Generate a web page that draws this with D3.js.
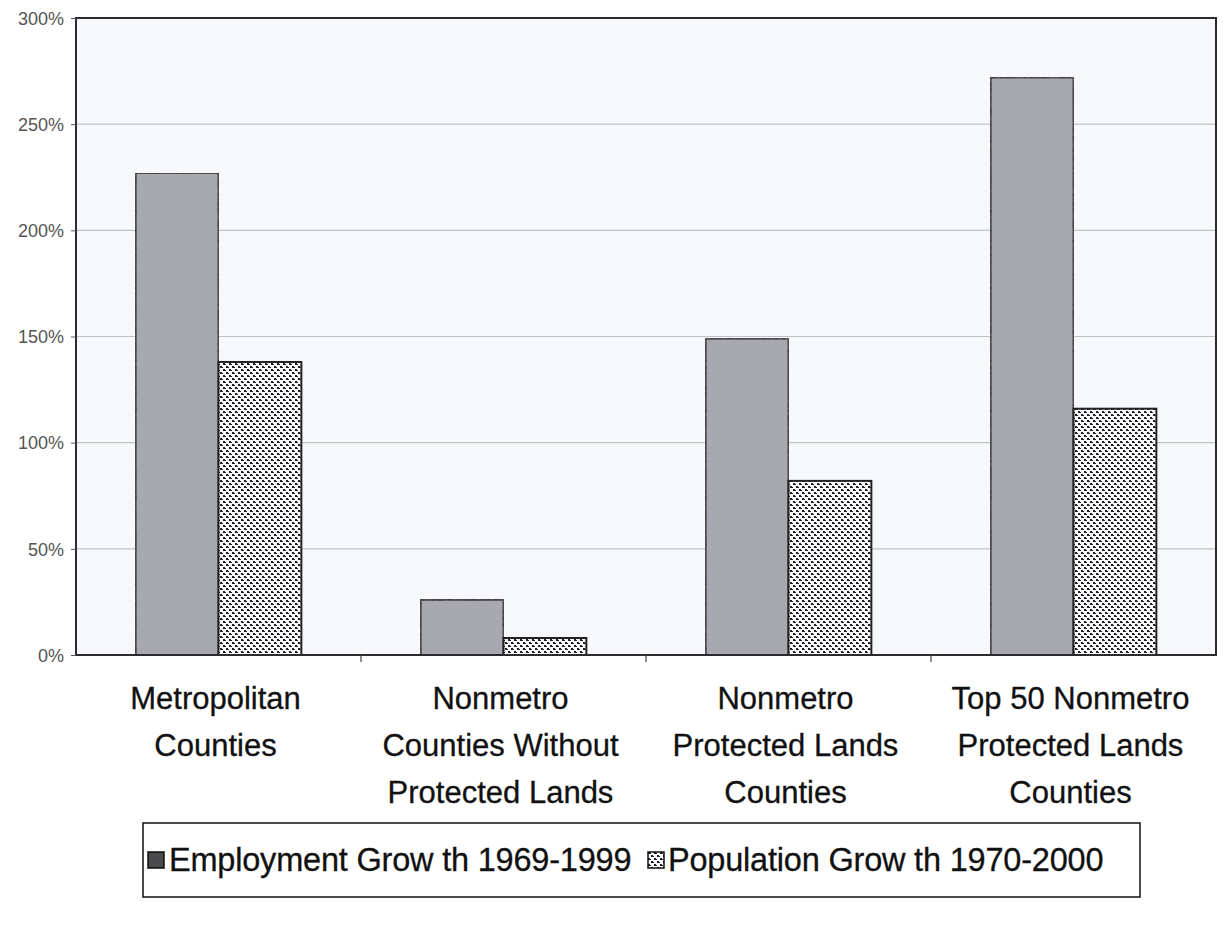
<!DOCTYPE html>
<html>
<head>
<meta charset="utf-8">
<script src="https://cdn.jsdelivr.net/npm/d3@7"></script>
<style>
  body { margin: 0; background: #fff; }
  svg { display: block; }
</style>
</head>
<body>
<svg id="chart" width="1224" height="925"></svg>
<script>
// Growth rates by county type, in percent
const categories = [
  ["Metropolitan", "Counties"],
  ["Nonmetro", "Counties Without", "Protected Lands"],
  ["Nonmetro", "Protected Lands", "Counties"],
  ["Top 50 Nonmetro", "Protected Lands", "Counties"]
];
const seriesNames = ["Employment Grow th 1969-1999", "Population Grow th 1970-2000"];
const employment = [227, 26, 149, 272];
const population = [138, 8, 82, 116];
const yTicks = [0, 50, 100, 150, 200, 250, 300];

const FONT = "Liberation Sans, Arial, sans-serif";
const svg = d3.select("#chart");
const plot = { left: 76, right: 1216, top: 18, bottom: 655 };

const defs = svg.append("defs");

// Grainy grey fill for employment bars
const grain = defs.append("filter").attr("id", "grain")
  .attr("x", 0).attr("y", 0).attr("width", 1).attr("height", 1);
grain.append("feTurbulence").attr("type", "fractalNoise")
  .attr("baseFrequency", 0.3).attr("numOctaves", 2).attr("seed", 4).attr("result", "noise");
grain.append("feColorMatrix").attr("in", "noise").attr("type", "matrix")
  .attr("values", "0 0 0 0 0.4  0 0 0 0 0.4  0 0 0 0 0.43  0 0 0 0.3 0").attr("result", "tint");
grain.append("feComposite").attr("in", "tint").attr("in2", "SourceGraphic").attr("operator", "in").attr("result", "spots");
grain.append("feMerge").selectAll("feMergeNode").data(["SourceGraphic", "spots"]).join("feMergeNode").attr("in", d => d);

// Dotted fill for population bars
const dots = defs.append("pattern").attr("id", "dots")
  .attr("patternUnits", "userSpaceOnUse").attr("width", 6).attr("height", 6);
dots.append("rect").attr("width", 6).attr("height", 6).attr("fill", "#fafbfd");
[[0, 0, 2, 2], [2, 1, 1, 1], [3, 3, 2, 2], [5, 4, 1, 1]].forEach(([rx, ry, w, h]) =>
  dots.append("rect").attr("x", rx).attr("y", ry).attr("width", w).attr("height", h).attr("fill", "#1f1f24"));

const x = d3.scaleBand().domain(d3.range(categories.length))
  .range([plot.left, plot.right]).paddingInner(0).paddingOuter(0);
const inner = d3.scaleBand().domain([0, 1]).range([0, x.bandwidth()]).paddingInner(0).paddingOuter(0.72);
const y = d3.scaleLinear().domain([0, 300]).range([plot.bottom, plot.top]);

// Plot area
svg.append("rect").attr("x", plot.left).attr("y", plot.top)
  .attr("width", plot.right - plot.left).attr("height", plot.bottom - plot.top)
  .attr("fill", "#f6f8fb");

// Gridlines
svg.append("g").selectAll("line").data(yTicks.slice(1, -1)).join("line")
  .attr("x1", plot.left).attr("x2", plot.right)
  .attr("y1", d => y(d)).attr("y2", d => y(d))
  .attr("stroke", "#bfc1c6").attr("stroke-width", 1.2);

// Bars
const groups = svg.append("g").selectAll("g").data(categories).join("g")
  .attr("transform", (d, i) => `translate(${x(i)},0)`);
groups.append("rect")
  .attr("x", inner(0)).attr("width", inner.bandwidth())
  .attr("y", (d, i) => y(employment[i])).attr("height", (d, i) => y(0) - y(employment[i]))
  .attr("fill", "#a7a8b0").attr("filter", "url(#grain)")
  .attr("stroke", "#222").attr("stroke-width", 2);
groups.append("rect")
  .attr("x", inner(1)).attr("width", inner.bandwidth())
  .attr("y", (d, i) => y(population[i])).attr("height", (d, i) => y(0) - y(population[i]))
  .attr("fill", "url(#dots)")
  .attr("stroke", "#222").attr("stroke-width", 2);

// Frame
svg.append("rect").attr("x", plot.left).attr("y", plot.top)
  .attr("width", plot.right - plot.left).attr("height", plot.bottom - plot.top)
  .attr("fill", "none").attr("stroke", "#2b2b2f").attr("stroke-width", 2);

// Y axis
const yAxis = svg.append("g").attr("transform", `translate(${plot.left},0)`)
  .call(d3.axisLeft(y).tickValues(yTicks).tickSize(5).tickFormat(d => d + "%"));
yAxis.select(".domain").remove();
yAxis.selectAll("line").attr("stroke", "#555");
yAxis.selectAll("text").attr("font-family", FONT)
  .attr("font-size", 18).attr("fill", "#555").attr("x", -12).attr("dy", "0.35em");

// X axis ticks at category boundaries
const bounds = d3.range(1, categories.length).map(i => x(i));
svg.append("g").selectAll("line").data(bounds).join("line")
  .attr("x1", d => d).attr("x2", d => d)
  .attr("y1", plot.bottom).attr("y2", plot.bottom + 7)
  .attr("stroke", "#444").attr("stroke-width", 1.2);

// Category labels
const labels = svg.append("g").attr("font-family", FONT)
  .attr("font-size", 31).attr("fill", "#111")
  .attr("stroke", "#111").attr("stroke-width", 0.3)
  .attr("text-anchor", "middle");
categories.forEach((lines, i) => {
  const cx = x(i) + x.bandwidth() / 2 - 3;
  const t = labels.append("text").attr("x", cx).attr("y", 709);
  lines.forEach((ln, j) => t.append("tspan").attr("x", cx).attr("dy", j ? 47 : 0).text(ln));
});

// Legend
const legend = svg.append("g");
legend.append("rect").attr("x", 143).attr("y", 823).attr("width", 997).attr("height", 74)
  .attr("fill", "#fff").attr("stroke", "#111").attr("stroke-width", 1.5);
const legendItems = [
  { name: seriesNames[0], fill: "#4a4a4e", x: 148, tx: 169 },
  { name: seriesNames[1], fill: "url(#dots)", x: 648, tx: 668 }
];
legendItems.forEach(it => {
  legend.append("rect").attr("x", it.x).attr("y", 852).attr("width", 16).attr("height", 16)
    .attr("fill", it.fill).attr("stroke", "#111").attr("stroke-width", 1.5);
  legend.append("text").attr("x", it.tx).attr("y", 871)
    .attr("font-family", FONT).attr("font-size", 32.5)
    .attr("letter-spacing", -0.2)
    .attr("stroke", "#111").attr("stroke-width", 0.3)
    .attr("fill", "#111").text(it.name);
});
</script>
</body>
</html>
